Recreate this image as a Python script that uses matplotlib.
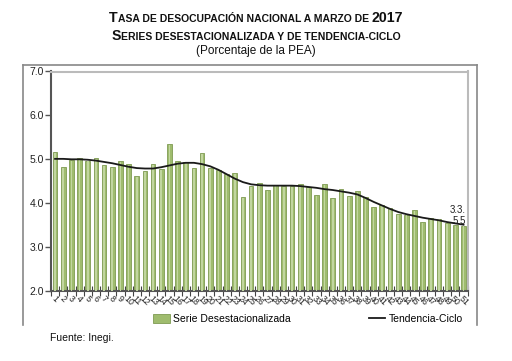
import numpy as np
import matplotlib; matplotlib.use('Agg')
import matplotlib.pyplot as plt
from matplotlib.lines import Line2D
from matplotlib.patches import Patch

plt.rcParams['font.family'] = ['Liberation Sans', 'DejaVu Sans']

# ---- data ----
periods = [str(i) for i in range(1, 52)]
serie = [5.17, 4.83, 4.98, 5.03, 4.97, 5.03, 4.86, 4.82, 4.96, 4.89,
         4.61, 4.73, 4.89, 4.77, 5.34, 4.95, 4.94, 4.81, 5.15, 4.81,
         4.75, 4.66, 4.69, 4.14, 4.39, 4.45, 4.29, 4.42, 4.39, 4.39,
         4.43, 4.36, 4.18, 4.43, 4.11, 4.33, 4.17, 4.27, 4.15, 3.91,
         3.97, 3.90, 3.75, 3.74, 3.84, 3.58, 3.67, 3.65, 3.55, 3.50,
         3.49]
tendencia = [5.01, 5.01, 5.00, 5.00, 4.99, 4.97, 4.94, 4.91, 4.87, 4.83,
             4.80, 4.79, 4.79, 4.82, 4.86, 4.90, 4.92, 4.92, 4.89, 4.84,
             4.76, 4.66, 4.56, 4.48, 4.43, 4.41, 4.40, 4.40, 4.40, 4.40,
             4.39, 4.37, 4.35, 4.32, 4.30, 4.27, 4.24, 4.20, 4.12, 4.03,
             3.95, 3.87, 3.80, 3.75, 3.71, 3.67, 3.64, 3.61, 3.57, 3.54,
             3.51]

BAR = '#9FBC6E'
BAR_EDGE = '#7F9B52'
BAR_HI = '#C2D6A0'

W, H = 512, 361
fig = plt.figure(figsize=(W / 100, H / 100), dpi=100)

# outer frame (open at the bottom)
fx = lambda px: px / W
fy = lambda py: 1 - py / H
fig.add_artist(Line2D([fx(23), fx(477)], [fy(65), fy(65)], color='#888888', lw=1.2))
fig.add_artist(Line2D([fx(23), fx(23)], [fy(65), fy(325)], color='#888888', lw=1.2))
fig.add_artist(Line2D([fx(477), fx(477)], [fy(65), fy(325)], color='#888888', lw=1.2))

ax = fig.add_axes([fx(51), fy(291), fx(468) - fx(51), fy(71.5) - fy(291)])
x = np.arange(1, len(serie) + 1)
ax.bar(x, serie, width=0.58, color=BAR, edgecolor=BAR_EDGE, linewidth=0.6, zorder=2)
ax.bar(x, np.array(serie) - 2.02, bottom=2.0, width=0.2, color=BAR_HI, linewidth=0, zorder=3)
ax.plot(x, tendencia, color='#1a1a1a', lw=1.3, zorder=4)

ax.set_xlim(0.5, len(serie) + 0.55)
ax.set_ylim(2.0, 7.0)
ax.set_yticks(np.arange(2.0, 7.01, 1.0))
ax.set_yticklabels([f'{v:.1f}' for v in np.arange(2.0, 7.01, 1.0)], fontsize=7.5, color='#222222')
ax.tick_params(axis='y', length=4, width=1, color='#555555', pad=1)

ax.set_xticks(np.arange(0.5, len(serie) + 0.6, 1.0))
ax.set_xticklabels([])
ax.tick_params(axis='x', which='major', direction='inout', length=7, width=0.8, color='#444444')
ax.set_xticks(x, minor=True)
ax.set_xticklabels(periods, minor=True, rotation=-45, fontsize=6.3, ha='center', color='#222222')
ax.tick_params(axis='x', which='minor', length=0, pad=2)

for s in ['left', 'bottom']:
    ax.spines[s].set_color('#555555')
    ax.spines[s].set_linewidth(1.5)
for s in ['top', 'right']:
    ax.spines[s].set_color('#BBBBBB')
    ax.spines[s].set_linewidth(1.5)

# overlapping end labels as in the reference
ax.text(51.3, 3.84, '3.3.', fontsize=7, ha='right', va='center', color='#222222')
ax.text(51.3, 3.60, '5.5', fontsize=7, ha='right', va='center', color='#222222')

handles = [Patch(facecolor=BAR, edgecolor=BAR_EDGE, linewidth=0.6),
           Line2D([0], [0], color='#1a1a1a', lw=1.3)]
fig.legend(handles, ['Serie Desestacionalizada', 'Tendencia-Ciclo'], ncol=2, frameon=False,
           fontsize=7.5, loc='center', bbox_to_anchor=(fx(308), fy(319)),
           columnspacing=7.5, handlelength=1.6, handletextpad=0.3, handleheight=0.9)

fig.text(fx(50), fy(338), 'Fuente: Inegi.', fontsize=7.5, va='center', color='#111111')


def smallcaps(text, ybase, big, small, weight='bold'):
    runs = []
    for ch in text:
        size = big if (ch.isupper() or ch.isdigit()) else small
        if runs and runs[-1][1] == size:
            runs[-1][0] += ch.upper()
        else:
            runs.append([ch.upper(), size])
    r = fig.canvas.get_renderer()
    objs = []
    for s, size in runs:
        t = fig.text(0, fy(ybase), s, fontsize=size, fontweight=weight, va='baseline', color='#111111')
        objs.append(t)
    widths = [t.get_window_extent(r).width for t in objs]
    start = W / 2 - sum(widths) / 2
    for t, w in zip(objs, widths):
        t.set_x(start / W)
        start += w


smallcaps('Tasa de desocupación nacional a marzo de 2017', 22, 10.2, 7.5)
smallcaps('Series desestacionalizada y de tendencia-ciclo', 40, 10.2, 7.5)
fig.text(0.5, fy(51), '(Porcentaje de la PEA)', fontsize=8.5, ha='center', va='center', color='#111111')

fig.savefig('out.png', dpi=100)
